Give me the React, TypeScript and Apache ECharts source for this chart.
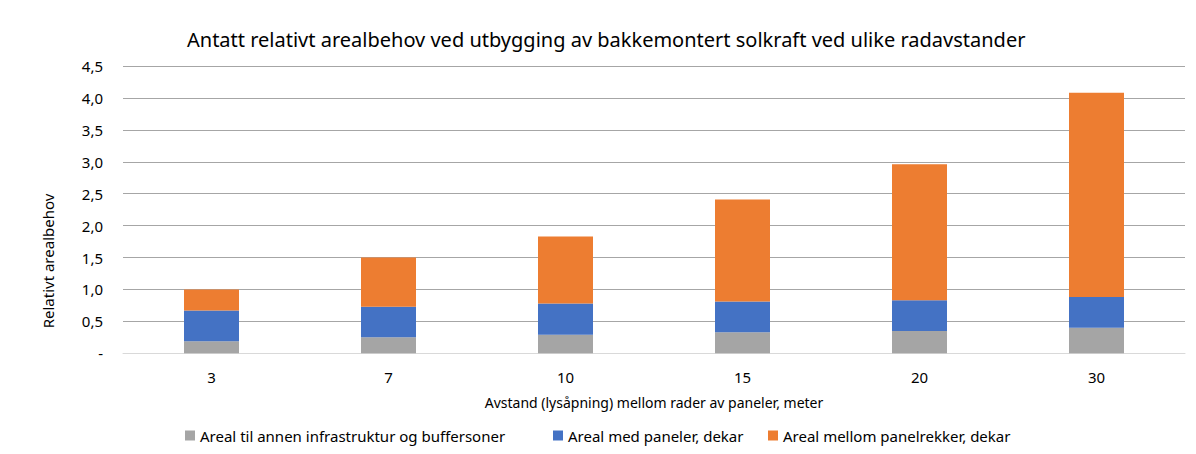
import React, { useEffect, useRef } from "react";
import * as echarts from "echarts";

const categories = ["3", "7", "10", "15", "20", "30"];
const infrastruktur = [0.19, 0.25, 0.29, 0.33, 0.35, 0.40];
const paneler = [0.48, 0.48, 0.49, 0.48, 0.48, 0.48];
const mellomrom = [0.33, 0.77, 1.05, 1.60, 2.13, 3.20];
const seriesNames = [
  "Areal til annen infrastruktur og buffersoner",
  "Areal med paneler, dekar",
  "Areal mellom panelrekker, dekar",
];
const colors = ["#A5A5A5", "#4472C4", "#ED7D31"];
const legendLefts = [180, 548, 763];

const FONT = "Noto Sans";

export default function App() {
  const ref = useRef<HTMLDivElement>(null);
  useEffect(() => {
    if (!ref.current) return;
    const chart = echarts.init(ref.current, null, { renderer: "svg" });
    const values = [infrastruktur, paneler, mellomrom];
    chart.setOption({
      animation: false,
      textStyle: { fontFamily: FONT },
      graphic: [
        {
          type: "rect",
          shape: { x: 4.5, y: 0.5, width: 1186, height: 452 },
          style: { fill: "none", stroke: "#D9D9D9", lineWidth: 1 },
          silent: true,
        },
        {
          type: "text",
          x: 48,
          y: 261,
          rotation: Math.PI / 2,
          style: {
            text: "Relativt arealbehov",
            fontFamily: FONT,
            fontSize: 15,
            fill: "#000",
            align: "center",
            verticalAlign: "middle",
          },
          silent: true,
        },
      ],
      title: {
        text: "Antatt relativt arealbehov ved utbygging av bakkemontert solkraft ved ulike radavstander",
        left: 182,
        top: 24,
        textStyle: { fontFamily: FONT, fontSize: 20, fontWeight: "normal", color: "#000" },
      },
      legend: seriesNames.map((name, i) => ({
        top: 423,
        left: legendLefts[i],
        itemWidth: 10,
        itemHeight: 10,
        icon: "rect",
        textStyle: { fontFamily: FONT, fontSize: 15, color: "#000" },
        data: [name],
      })),
      grid: { left: 123, right: 11, top: 66, bottom: 100.7 },
      xAxis: {
        type: "category",
        data: categories,
        name: "Avstand (lysåpning) mellom rader av paneler, meter",
        nameLocation: "middle",
        nameGap: 42,
        nameTextStyle: { fontFamily: FONT, fontSize: 14, color: "#000" },
        axisLine: { show: true, lineStyle: { color: "#D9D9D9" } },
        axisTick: { show: false },
        axisLabel: { fontFamily: FONT, fontSize: 15, color: "#000", margin: 16 },
      },
      yAxis: {
        type: "value",
        min: 0,
        max: 4.5,
        interval: 0.5,
        axisLine: { show: false },
        axisTick: { show: false },
        axisLabel: {
          fontFamily: FONT,
          fontSize: 15,
          color: "#000",
          margin: 20,
          formatter: (v: number) => (v === 0 ? "-" : v.toFixed(1).replace(".", ",")),
        },
        splitLine: { lineStyle: { color: "#A6A6A6", width: 1 } },
      },
      series: seriesNames.map((name, i) => ({
        name,
        type: "bar",
        stack: "total",
        barWidth: 55,
        data: values[i],
        itemStyle: { color: colors[i] },
      })),
    });
    return () => chart.dispose();
  }, []);
  return <div ref={ref} style={{ width: 1196, height: 454, margin: -8 }} />;
}
